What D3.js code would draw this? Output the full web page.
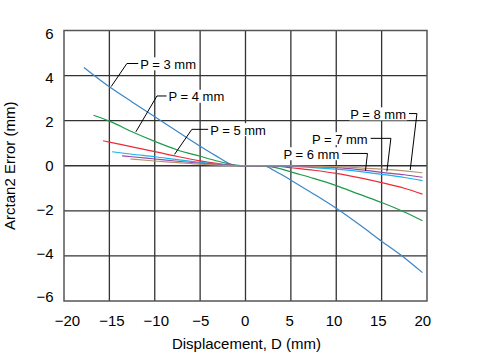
<!DOCTYPE html>
<html>
<head>
<meta charset="utf-8">
<script src="https://cdn.jsdelivr.net/npm/d3@7"></script>
<style>
  html, body { margin: 0; padding: 0; background: #fff; }
  svg { display: block; }
  text { font-family: "Liberation Sans", Arial, sans-serif; }
</style>
</head>
<body>
<svg id="chart" width="495" height="356"></svg>
<script>
// ---------- data ----------
const xTicks = [-20, -15, -10, -5, 0, 5, 10, 15, 20];
const yTicks = [-6, -4, -2, 0, 2, 4, 6];
const seriesNames = ["P = 3 mm", "P = 4 mm", "P = 5 mm", "P = 6 mm", "P = 7 mm", "P = 8 mm"];

const dispP3 = [-17.8,-15,-12.5,-10,-7.5,-5,-3,-2,-1.5,-1,0,1,2,2.5,3,4,5,7.5,10,12.5,15,17.5,19.5];
const errP3  = [4.36,3.5,2.83,2.17,1.52,0.87,0.38,0.14,0.05,0.02,0,0,-0.01,-0.06,-0.18,-0.4,-0.64,-1.25,-1.89,-2.6,-3.35,-4.08,-4.74];

const dispP4 = [-16.75,-15,-12.5,-10,-7.5,-5,-3,-2,-1.5,-1,0,1,2,3,4,5,7.5,10,12.5,15,17.5,19.5];
const errP4  = [2.24,1.98,1.51,1.08,0.7,0.42,0.2,0.1,0.05,0.02,0,0,-0.01,-0.06,-0.15,-0.27,-0.56,-0.88,-1.26,-1.63,-2.05,-2.44];

const dispP5 = [-15.7,-15,-12.5,-10,-7.5,-5,-3,-2,-1.5,-1,0,1,2,3,4,5,7.5,10,12.5,15,17.5,19.5];
const errP5  = [1.11,1.05,0.84,0.63,0.41,0.22,0.1,0.05,0.03,0.01,0,0,0,-0.01,-0.04,-0.09,-0.2,-0.34,-0.53,-0.75,-1.0,-1.26];

const dispP6 = [-14.7,-12.5,-10,-7.5,-5,-3,-2,-1,0,1,2,3,5,7.5,10,12.5,15,17.5,19.5];
const errP6  = [0.62,0.51,0.4,0.27,0.15,0.07,0.03,0.01,0,0,0,-0.01,-0.03,-0.08,-0.15,-0.25,-0.38,-0.52,-0.66];

const dispP7 = [-13.6,-12.5,-10,-7.5,-5,-3,-2,-1,0,2,3,5,7.5,10,12.5,15,17.5,19.5];
const errP7  = [0.44,0.4,0.3,0.2,0.11,0.05,0.02,0.01,0,0,0,-0.01,-0.04,-0.08,-0.17,-0.29,-0.4,-0.51];

const dispP8 = [-12.7,-10,-7.5,-5,-3,-2,-1,0,2,5,7.5,10,12.5,15,17.5,19.5];
const errP8  = [0.3,0.21,0.14,0.07,0.03,0.01,0,0,0,0,-0.02,-0.04,-0.09,-0.15,-0.23,-0.31];

// annotation placement in data units: text anchor point, elbow, curve anchor displacement
const labelD     = [-11.6, -8.48, -3.89, 4.19, 7.32, 11.54];
const labelE     = [4.5, 3.06, 1.58, 0.51, 1.18, 2.28];
const elbowD     = [-13.07, -9.76, -5.91, 13.44, 16.02, 18.89];
const anchorD    = [-14.8, -12.08, -7.82, 13.22, 15.58, 18.15];

// ---------- setup ----------
const colors = ["#3a86c8", "#1e9a4c", "#ec2b36", "#19b2ea", "#9a48a6", "#b8946e"];
const series = [
  [dispP3, errP3], [dispP4, errP4], [dispP5, errP5],
  [dispP6, errP6], [dispP7, errP7], [dispP8, errP8]
].map(([d, e], i) => ({ name: seriesNames[i], color: colors[i], pts: d.map((v, j) => ({ x: v, y: e[j] })) }));

const svg = d3.select("#chart");
const x = d3.scaleLinear().domain([-20, 20]).range([64, 427]);
const y = d3.scaleLinear().domain([-6, 6]).range([301, 30.5]);
// tick labels in the original sit slightly compressed relative to grid
const xLab = d3.scaleLinear().domain([-20, 20]).range([67.5, 422.8]);
const yLab = d3.scaleLinear().domain([-6, 6]).range([297, 34]);

// grid
const g = svg.append("g");
g.selectAll(".vg").data(xTicks.slice(1, -1)).join("line")
  .attr("x1", d => x(d)).attr("x2", d => x(d)).attr("y1", y(6)).attr("y2", y(-6))
  .attr("stroke", "#333").attr("stroke-width", 1.3);
g.selectAll(".hg").data(yTicks.slice(1, -1)).join("line")
  .attr("y1", d => y(d)).attr("y2", d => y(d)).attr("x1", x(-20)).attr("x2", x(20))
  .attr("stroke", "#333").attr("stroke-width", 1.3);
g.append("rect").attr("x", x(-20)).attr("y", y(6)).attr("width", x(20) - x(-20)).attr("height", y(-6) - y(6))
  .attr("fill", "none").attr("stroke", "#555").attr("stroke-width", 1.5);

// curves
const line = d3.line().x(d => x(d.x)).y(d => y(d.y)).curve(d3.curveMonotoneX);
svg.append("g").selectAll("path").data(series).join("path")
  .attr("d", s => line(s.pts)).attr("fill", "none")
  .attr("stroke", s => s.color).attr("stroke-width", 1.2);

// interpolate error at a displacement
function valueAt(pts, d) {
  const i = d3.bisector(p => p.x).left(pts, d);
  const a = pts[Math.max(0, i - 1)], b = pts[Math.min(pts.length - 1, i)];
  if (a === b) return a.y;
  return a.y + (b.y - a.y) * (d - a.x) / (b.x - a.x);
}

// annotations
const ann = svg.append("g");
series.forEach((s, i) => {
  const tx = x(labelD[i]), ty = y(labelE[i]);
  const t = ann.append("text").attr("x", tx).attr("y", ty + 4.6)
    .attr("font-size", 13).attr("fill", "#000").text(s.name);
  const w = t.node().getComputedTextLength();
  ann.insert("rect", "text").attr("x", tx - 1).attr("y", ty - 7).attr("width", w + 2).attr("height", 13).attr("fill", "#fff");
  const leftSide = i < 3;
  const sx = leftSide ? tx - 2 : tx + w + 3;
  const ex = x(anchorD[i]), ey = y(valueAt(s.pts, anchorD[i])) - 1.5;
  ann.append("polyline")
    .attr("points", [[sx, ty - 0.8], [x(elbowD[i]), ty - 0.8], [ex, ey]].map(p => p.join(",")).join(" "))
    .attr("fill", "none").attr("stroke", "#000").attr("stroke-width", 1);
});

// tick labels
const fmt = d3.format("d");
svg.append("g").selectAll("text").data(xTicks).join("text")
  .attr("x", d => xLab(d)).attr("y", 326).attr("text-anchor", "middle")
  .attr("font-size", 15).attr("fill", "#000").text(d => fmt(d));
svg.append("g").selectAll("text").data(yTicks).join("text")
  .attr("x", 53.5).attr("y", d => yLab(d) + 5.4).attr("text-anchor", "end")
  .attr("font-size", 15).attr("fill", "#000").text(d => fmt(d));

// axis titles
svg.append("text").attr("x", 246.5).attr("y", 349).attr("text-anchor", "middle")
  .attr("font-size", 15).attr("fill", "#000").text("Displacement, D (mm)");
svg.append("text").attr("transform", "translate(14.7,165.8) rotate(-90)").attr("text-anchor", "middle")
  .attr("font-size", 15).attr("fill", "#000").text("Arctan2 Error (mm)");
</script>
</body>
</html>
